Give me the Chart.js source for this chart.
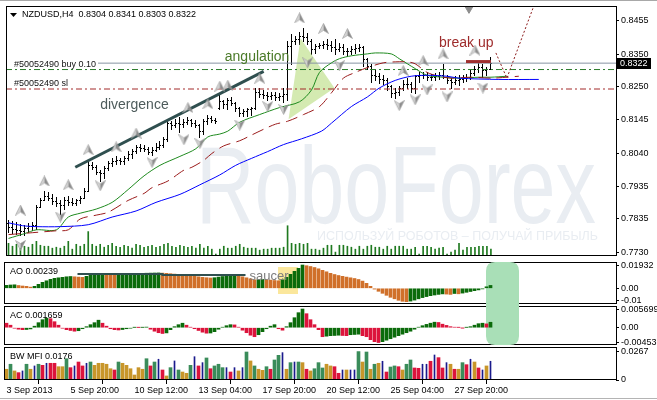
<!DOCTYPE html>
<html>
<head>
<meta charset="utf-8">
<script src="https://cdn.jsdelivr.net/npm/chart.js@4.4.0/dist/chart.umd.min.js"></script>
<style>
  html, body { margin: 0; padding: 0; background: #fff; }
  #wrap { position: relative; width: 657px; height: 400px; overflow: hidden; background: #fff; }
  #wrap canvas { position: absolute; left: 0; }
  #foot { position: absolute; left: 0; top: 398px; width: 657px; height: 1px; background: #b4b4b4; }
</style>
</head>
<body>
<div id="wrap">
  <canvas id="cMain" width="657" height="262" style="top:0"></canvas>
  <canvas id="cAO" width="657" height="44" style="top:261px"></canvas>
  <canvas id="cAC" width="657" height="41" style="top:305px"></canvas>
  <canvas id="cMFI" width="657" height="52" style="top:346px"></canvas>
  <div id="foot"></div>
</div>
<script>
// ---- data (NZDUSD H4) ----
const xTickIdx = [0, 16, 32, 48, 64, 80, 96, 112];
const xTickLabels = ['3 Sep 2013', '5 Sep 20:00', '10 Sep 12:00', '13 Sep 04:00', '17 Sep 20:00', '20 Sep 12:00', '25 Sep 04:00', '27 Sep 20:00'];
const priceTicks = [0.8455, 0.8350, 0.8250, 0.8145, 0.8040, 0.7935, 0.7835, 0.7730];

const opens = [0.7822,0.7810,0.7803,0.7800,0.7797,0.7807,0.7813,0.7816,0.7871,0.7892,
  0.7907,0.7901,0.7889,0.7883,0.7877,0.7892,0.7886,0.7883,0.7892,0.7901,
  0.7923,0.8002,0.7996,0.7981,0.7978,0.7993,0.8008,0.8015,0.8018,0.8015,
  0.8024,0.8036,0.8048,0.8060,0.8057,0.8054,0.8045,0.8051,0.8060,0.8067,
  0.8085,0.8134,0.8128,0.8134,0.8131,0.8137,0.8143,0.8134,0.8128,0.8109,
  0.8140,0.8149,0.8143,0.8183,0.8204,0.8195,0.8207,0.8198,0.8180,0.8167,
  0.8171,0.8177,0.8183,0.8232,0.8226,0.8222,0.8219,0.8222,0.8216,0.8219,
  0.8226,0.8375,0.8391,0.8397,0.8406,0.8403,0.8391,0.8366,0.8375,0.8379,
  0.8382,0.8379,0.8372,0.8366,0.8372,0.8360,0.8360,0.8366,0.8369,0.8372,
  0.8336,0.8314,0.8284,0.8281,0.8271,0.8268,0.8250,0.8229,0.8232,0.8244,
  0.8256,0.8256,0.8244,0.8281,0.8284,0.8284,0.8278,0.8278,0.8281,0.8284,
  0.8278,0.8268,0.8262,0.8268,0.8271,0.8275,0.8278,0.8290,0.8305,0.8311,
  0.8299,0.8304];
const highs = [0.7831,0.7828,0.7825,0.7819,0.7816,0.7822,0.7825,0.7877,0.7901,0.7923,
  0.7920,0.7911,0.7904,0.7892,0.7904,0.7907,0.7901,0.7895,0.7907,0.7932,
  0.8015,0.8011,0.8002,0.7987,0.7999,0.8015,0.8024,0.8030,0.8024,0.8030,
  0.8048,0.8054,0.8067,0.8070,0.8067,0.8060,0.8060,0.8073,0.8079,0.8091,
  0.8146,0.8140,0.8146,0.8152,0.8146,0.8152,0.8146,0.8143,0.8131,0.8146,
  0.8161,0.8155,0.8149,0.8222,0.8207,0.8213,0.8216,0.8201,0.8186,0.8177,
  0.8183,0.8186,0.8244,0.8244,0.8238,0.8232,0.8232,0.8232,0.8229,0.8244,
  0.8391,0.8412,0.8406,0.8421,0.8431,0.8415,0.8397,0.8382,0.8385,0.8391,
  0.8397,0.8391,0.8397,0.8385,0.8382,0.8369,0.8375,0.8382,0.8382,0.8375,
  0.8339,0.8320,0.8299,0.8290,0.8284,0.8275,0.8253,0.8244,0.8250,0.8268,
  0.8275,0.8262,0.8284,0.8293,0.8293,0.8293,0.8287,0.8290,0.8293,0.8320,
  0.8284,0.8275,0.8281,0.8284,0.8284,0.8287,0.8299,0.8314,0.8330,0.8320,
  0.8311,0.8341];
const lows = [0.7794,0.7791,0.7788,0.7785,0.7785,0.7794,0.7800,0.7803,0.7871,0.7892,
  0.7892,0.7880,0.7874,0.7849,0.7865,0.7877,0.7877,0.7877,0.7883,0.7901,
  0.7923,0.7990,0.7975,0.7953,0.7963,0.7987,0.7999,0.8005,0.8005,0.8005,
  0.8018,0.8024,0.8042,0.8048,0.8048,0.8036,0.8033,0.8048,0.8054,0.8060,
  0.8079,0.8115,0.8122,0.8106,0.8122,0.8131,0.8125,0.8122,0.8091,0.8100,
  0.8131,0.8137,0.8134,0.8177,0.8183,0.8177,0.8192,0.8171,0.8155,0.8158,
  0.8155,0.8161,0.8177,0.8216,0.8213,0.8207,0.8210,0.8207,0.8207,0.8201,
  0.8207,0.8320,0.8382,0.8382,0.8391,0.8382,0.8351,0.8354,0.8369,0.8369,
  0.8366,0.8360,0.8351,0.8360,0.8351,0.8345,0.8351,0.8354,0.8360,0.8314,
  0.8305,0.8262,0.8268,0.8259,0.8256,0.8238,0.8216,0.8213,0.8222,0.8238,
  0.8244,0.8232,0.8229,0.8262,0.8275,0.8268,0.8268,0.8268,0.8271,0.8275,
  0.8259,0.8244,0.8256,0.8253,0.8262,0.8265,0.8271,0.8284,0.8293,0.8278,
  0.8284,0.8303];
const closes = [0.7810,0.7803,0.7800,0.7797,0.7807,0.7813,0.7816,0.7871,0.7892,0.7907,
  0.7901,0.7889,0.7883,0.7877,0.7892,0.7886,0.7883,0.7892,0.7901,0.7923,
  0.8002,0.7996,0.7981,0.7978,0.7993,0.8008,0.8015,0.8018,0.8015,0.8024,
  0.8036,0.8048,0.8060,0.8057,0.8054,0.8045,0.8051,0.8060,0.8067,0.8085,
  0.8134,0.8128,0.8134,0.8131,0.8137,0.8143,0.8134,0.8128,0.8109,0.8140,
  0.8149,0.8143,0.8140,0.8204,0.8195,0.8207,0.8198,0.8180,0.8167,0.8171,
  0.8177,0.8183,0.8232,0.8226,0.8222,0.8219,0.8222,0.8216,0.8219,0.8226,
  0.8375,0.8391,0.8397,0.8406,0.8403,0.8391,0.8366,0.8375,0.8379,0.8382,
  0.8379,0.8372,0.8366,0.8372,0.8360,0.8360,0.8366,0.8369,0.8372,0.8336,
  0.8314,0.8284,0.8281,0.8271,0.8268,0.8250,0.8229,0.8232,0.8244,0.8256,
  0.8256,0.8244,0.8281,0.8284,0.8284,0.8278,0.8278,0.8281,0.8284,0.8278,
  0.8268,0.8262,0.8268,0.8271,0.8275,0.8278,0.8290,0.8305,0.8311,0.8299,
  0.8304,0.8322];
const volumes = [1300,1000,1200,800,1000,900,1200,1500,1100,1000,
  1000,800,900,800,1000,1500,700,1200,1000,1200,
  2500,1200,1000,1200,900,1100,1300,1000,900,1100,
  1000,800,1200,1100,900,1000,1100,900,1000,1200,
  1300,1000,900,1100,1000,900,1000,800,1200,800,
  1000,700,200,700,1000,800,800,1000,1200,900,
  800,800,800,600,700,700,800,800,800,900,
  3100,1300,1200,1300,1200,1300,700,700,600,800,
  1100,1100,400,1100,1100,1000,900,700,1000,700,
  1000,1100,900,900,700,1000,700,1000,1000,1000,
  700,700,900,200,1000,1000,900,700,800,900,
  200,400,600,1300,600,900,900,900,1000,1000,
  1000,700];

// Alligator lines (bar index, price)
const jawIdx = [0,3.5,7,13,20,26,32,37,43,48,53,57,61,65,69,73.5,78.5,81,86,90,93,97,101,105,110,113,123,133];
const jawVal = [0.7822,0.7813,0.7810,0.7810,0.7816,0.7840,0.7859,0.7886,0.7911,0.7941,0.7972,0.8002,0.8024,0.8045,0.8067,0.8085,0.8109,0.8134,0.8186,0.8216,0.8244,0.8268,0.8281,0.8284,0.8281,0.8275,0.8271,0.8271];
const teethIdx = [0,6,12,15,18,22,25,30,34,36,40,44,46,49,51,54,58,61,64,67,70,74,78,81,84,87,90,94,97,100,102,105,108,111,116,121,128];
const teethVal = [0.7785,0.7791,0.7797,0.7800,0.7834,0.7846,0.7855,0.7892,0.7914,0.7932,0.7953,0.7987,0.7996,0.8018,0.8039,0.8063,0.8079,0.8097,0.8115,0.8131,0.8140,0.8161,0.8186,0.8229,0.8275,0.8293,0.8308,0.8323,0.8326,0.8326,0.8320,0.8293,0.8281,0.8275,0.8278,0.8275,0.8281];
const lipsIdx = [0,4,7,12,15,18,22,26,30,34,38,43,47,50,53,55,58,63,68,73,76,78,81,83,86,90,92,96,98,102,105,109,113,118,121,125];
const lipsVal = [0.7773,0.7788,0.7800,0.7800,0.7840,0.7852,0.7865,0.7886,0.7926,0.7969,0.8002,0.8030,0.8054,0.8091,0.8100,0.8109,0.8137,0.8161,0.8183,0.8201,0.8238,0.8293,0.8323,0.8336,0.8345,0.8351,0.8354,0.8351,0.8336,0.8305,0.8284,0.8278,0.8275,0.8278,0.8278,0.8281];

// Fractals
const upIdx = [3,9,15,20,27,32,45,50,53,55,63,73,79,85,99,104,109,117];
const upVal = [0.7862,0.7953,0.7941,0.8051,0.8060,0.8103,0.8183,0.8195,0.8250,0.8253,0.8275,0.8464,0.8431,0.8415,0.8299,0.8330,0.8351,0.8363];
const dnIdx = [3,13,23,36,44,48,58,65,69,75,83,98,102,105,110,119];
const dnVal = [0.7751,0.7840,0.7938,0.8011,0.8082,0.8070,0.8128,0.8186,0.8177,0.8323,0.8314,0.8189,0.8207,0.8238,0.8216,0.8244];

// Order lines
const bidPrice = 0.8322;
const orderPrice = 0.8302;
const slPrice = 0.8241;

// Drawn analysis objects
const trendIdx = [16.75, 64];
const trendVal = [0.7996, 0.8296];
const angIdx = [73.25, 81.75, 70.25, 73.25];
const angVal = [0.8400, 0.8244, 0.8146, 0.8400];
const breakIdx = [114.75, 121];
const breakVal = [0.8327, 0.8327];
const projIdx = [122.25, 125, 132.5];
const projVal = [0.8354, 0.8275, 0.8526];
const shiftIdx = [115.5];
const shiftVal = [0.8492];

// Awesome Oscillator
const ao = [0.00249,0.00274,0.00291,0.00232,0.00191,0.00166,0.00100,0.00166,0.00332,0.00498,
  0.00623,0.00747,0.00830,0.00872,0.00913,0.00955,0.00979,0.00955,0.00930,0.00913,
  0.00996,0.01079,0.01145,0.01187,0.01212,0.01195,0.01179,0.01162,0.01179,0.01195,
  0.01204,0.01212,0.01228,0.01237,0.01245,0.01253,0.01262,0.01270,0.01278,0.01262,
  0.01245,0.01212,0.01179,0.01145,0.01112,0.01079,0.01038,0.00996,0.00955,0.00913,
  0.00880,0.00855,0.00880,0.00930,0.00979,0.01021,0.01054,0.01071,0.01038,0.00955,
  0.00872,0.00789,0.00706,0.00722,0.00739,0.00714,0.00681,0.00647,0.00623,0.00706,
  0.00913,0.01162,0.01411,0.01660,0.01932,0.01876,0.01809,0.01726,0.01619,0.01494,
  0.01370,0.01245,0.01145,0.01062,0.00996,0.00930,0.00872,0.00813,0.00730,0.00598,
  0.00415,0.00166,-0.00066,-0.00249,-0.00415,-0.00581,-0.00747,-0.00872,-0.00996,-0.01079,
  -0.01112,-0.01062,-0.00979,-0.00872,-0.00772,-0.00689,-0.00614,-0.00556,-0.00506,-0.00465,
  -0.00481,-0.00506,-0.00432,-0.00457,-0.00398,-0.00332,-0.00266,-0.00199,-0.00133,-0.00050,
  0.00125,0.00239];
const aoTicks = [0.01932, 0, -0.01];
const aoTickLabels = ['0.01932', '0.00', '-0.01'];
const aoLineIdx = [17.75, 39, 39, 59.75];
const aoLineVal = [0.0119, 0.0119, 0.0111, 0.0111];

// Accelerator Oscillator
const ac = [0.00137,0.00076,-0.00015,-0.00046,-0.00061,-0.00055,-0.00037,0.00046,0.00153,0.00244,
  0.00290,0.00275,0.00183,0.00076,-0.00015,-0.00061,-0.00085,-0.00107,-0.00092,-0.00031,
  0.00031,0.00092,0.00153,0.00229,0.00137,0.00046,-0.00031,-0.00061,-0.00070,-0.00055,
  -0.00031,-0.00015,0.00009,0.00006,0.00009,0.00018,-0.00046,-0.00107,-0.00153,-0.00177,
  -0.00159,-0.00061,0.00031,0.00092,0.00137,0.00076,0.00015,-0.00031,-0.00085,-0.00137,
  -0.00168,-0.00162,-0.00122,-0.00046,0.00015,0.00061,0.00092,0.00085,0.00015,-0.00076,
  -0.00153,-0.00229,-0.00275,-0.00214,-0.00122,-0.00031,0.00046,0.00092,-0.00031,-0.00076,
  0.00031,0.00153,0.00305,0.00458,0.005699,0.00427,0.00244,0.00092,-0.00061,-0.00275,
  -0.00259,-0.00244,-0.00238,-0.00229,-0.00238,-0.00244,-0.00214,-0.00207,-0.00198,-0.00244,
  -0.00275,-0.00366,-0.00427,-0.00453,-0.00427,-0.00381,-0.00336,-0.00290,-0.00244,-0.00198,
  -0.00153,-0.00107,-0.00046,0.00015,0.00061,0.00101,0.00137,0.00168,0.00159,0.00107,
  0.00070,0.00031,0.00015,0.00009,-0.00006,0.00009,0.00031,0.00076,0.00122,0.00137,
  0.00116,0.001659];
const acTicks = [0.005699, 0, -0.00453];
const acTickLabels = ['0.005699', '0.00', '-0.00453'];

// Bill Williams Market Facilitation Index (G green, F fade, K fake, S squat)
const mfi = [0.0101,0.0148,0.0085,0.0069,0.0085,0.0148,0.0101,0.0132,0.0148,0.0138,
  0.0157,0.0157,0.0157,0.0125,0.0125,0.0200,0.0116,0.0132,0.0169,0.0132,
  0.0157,0.0169,0.0138,0.0157,0.0157,0.0148,0.0106,0.0094,0.0169,0.0157,
  0.0138,0.0106,0.0047,0.0116,0.0101,0.0200,0.0132,0.0169,0.0195,0.0094,
  0.0038,0.0116,0.0179,0.0094,0.0075,0.0063,0.0138,0.0219,0.0132,0.0163,
  0.0207,0.0106,0.0132,0.0148,0.0116,0.0116,0.0075,0.0116,0.0085,0.0116,
  0.0263,0.0179,0.0132,0.0101,0.0091,0.0125,0.0101,0.0188,0.0232,0.0257,
  0.0101,0.0163,0.0169,0.0169,0.0163,0.0101,0.0085,0.0106,0.0163,0.0113,
  0.0148,0.0132,0.0125,0.0063,0.0094,0.0094,0.0094,0.0094,0.0267,0.0169,
  0.0263,0.0101,0.0148,0.0157,0.0176,0.0075,0.0122,0.0132,0.0125,0.0094,
  0.0148,0.0188,0.0113,0.0110,0.0148,0.0148,0.0176,0.0235,0.0210,0.0113,
  0.0163,0.0148,0.0101,0.0101,0.0163,0.0144,0.0195,0.0169,0.0113,0.0094,
  0.0132,0.0176];
const mfiType = ['F','G','F','S','K','G','F','K','G','S',
  'K','S','S','F','F','G','S','K','S','S',
  'K','G','F','F','F','F','F','S','G','F',
  'F','F','F','F','F','G','S','G','K','S',
  'F','G','K','G','F','F','G','K','S','K',
  'G','S','G','G','G','K','S','K','F','K',
  'G','F','G','F','F','G','S','G','G','K',
  'F','G','K','G','F','S','F','G','G','G',
  'F','F','S','S','K','F','K','K','G','F',
  'G','F','G','F','K','S','G','G','S','F',
  'G','G','S','S','K','K','S','K','S','S',
  'K','F','S','F','G','S','K','F','S','K',
  'F','K'];
const mfiTicks = [0.0267, 0];
const mfiTickLabels = ['0.0267', '0'];

// ---- layout / style ----
const FONT = '"Liberation Sans", Arial, sans-serif';
const X_MIN = -0.625, X_MAX = 152.375;
const HL_FROM = 119.75, HL_TO = 128;          // green highlight over AO/AC
const SAUCER = { i0: 67.75, i1: 72.75, top: 0.0177, bottom: -0.0047, textI: 60.75, textV: 0.0102 };
const NOTES = [
  { text: 'divergence', i: 23, p: 0.8192, color: '#4d5b5b' },
  { text: 'angulation', i: 54.25, p: 0.8342, color: '#4a7a28' },
  { text: 'break up', i: 108, p: 0.8385, color: '#9e2b2b' }
];
Chart.defaults.font.family = FONT;
Chart.defaults.font.size = 9;
Chart.defaults.color = '#000';

const pts = (xs, ys) => xs.map((x, k) => ({ x, y: ys[k] }));
const series = (arr) => arr.map((y, i) => ({ x: i, y }));
const hline = (p) => [{ x: X_MIN, y: p }, { x: X_MAX, y: p }];
const upDown = (arr, up, down, firstUp) => arr.map((v, i) => ((i === 0 ? firstUp : v > arr[i - 1]) ? up : down));

function arrowImg(up) {
  const c = document.createElement('canvas');
  c.width = 11; c.height = 11;
  const g = c.getContext('2d');
  if (!up) { g.translate(0, 11); g.scale(1, -1); }
  g.beginPath(); g.moveTo(5.5, 0.5); g.lineTo(5.5, 7.5); g.lineTo(0.5, 10.5); g.closePath();
  g.fillStyle = '#d2d2d2'; g.fill();
  g.beginPath(); g.moveTo(5.5, 0.5); g.lineTo(10.5, 10.5); g.lineTo(5.5, 7.5); g.closePath();
  g.fillStyle = '#8c8c8c'; g.fill();
  g.beginPath(); g.moveTo(5.5, 0.5); g.lineTo(10.5, 10.5); g.lineTo(5.5, 7.5); g.lineTo(0.5, 10.5); g.closePath();
  g.strokeStyle = '#9c9c9c'; g.lineWidth = 0.6; g.stroke();
  return c;
}

function roundPath(ctx, x, y, w, h, r) {
  const [tl, tr, br, bl] = r;
  ctx.beginPath();
  ctx.moveTo(x + tl, y);
  ctx.lineTo(x + w - tr, y); ctx.quadraticCurveTo(x + w, y, x + w, y + tr);
  ctx.lineTo(x + w, y + h - br); ctx.quadraticCurveTo(x + w, y + h, x + w - br, y + h);
  ctx.lineTo(x + bl, y + h); ctx.quadraticCurveTo(x, y + h, x, y + h - bl);
  ctx.lineTo(x, y + tl); ctx.quadraticCurveTo(x, y, x + tl, y);
  ctx.closePath();
}

function xAxis(show) {
  const s = { type: 'linear', min: X_MIN, max: X_MAX, offset: false, display: show };
  if (show) {
    Object.assign(s, {
      afterBuildTicks: sc => { sc.ticks = xTickIdx.map(v => ({ value: v })); },
      afterFit: sc => { sc.height = 18; sc.paddingLeft = 0; sc.paddingRight = 0; },
      ticks: { callback: (v, i) => xTickLabels[i], align: 'start', maxRotation: 0, autoSkip: false, padding: 1 },
      grid: { drawOnChartArea: false, tickLength: 4, color: '#000' },
      border: { display: false }
    });
  }
  return s;
}
function yAxis(min, max, vals, labels) {
  return {
    type: 'linear', position: 'right', min, max,
    afterBuildTicks: sc => { sc.ticks = vals.map(v => ({ value: v })); },
    afterFit: sc => { sc.width = 41; sc.paddingTop = 0; sc.paddingBottom = 0; },
    ticks: { callback: (v, i) => labels[i], autoSkip: false, padding: 2 },
    grid: { drawOnChartArea: false, tickLength: 3, color: '#000' },
    border: { display: false }
  };
}
function drawFrame(chart) {
  const { ctx, chartArea: a } = chart;
  ctx.save();
  ctx.strokeStyle = '#000'; ctx.lineWidth = 1;
  ctx.strokeRect(a.left + 0.5, a.top + 0.5, a.right - a.left, a.bottom - a.top - 1);
  ctx.restore();
}
const frameEarly = { id: 'frameEarly', beforeDatasetsDraw: drawFrame };
const frameLate = { id: 'frameLate', afterDraw: drawFrame };
function panelLabel(text) {
  return { id: 'plabel', afterDatasetsDraw(chart) {
    const { ctx, chartArea: a } = chart;
    ctx.save(); ctx.font = '9px ' + FONT; ctx.fillStyle = '#000'; ctx.textBaseline = 'middle';
    ctx.fillText(text, a.left + 6, a.top + 10);
    ctx.restore();
  } };
}
function highlight(part) {
  return { id: 'hl' + part, beforeDatasetsDraw(chart) {
    const { ctx, chartArea: a, scales: { x } } = chart;
    const x0 = Math.round(x.getPixelForValue(HL_FROM)), x1 = Math.round(x.getPixelForValue(HL_TO));
    const y0 = part === 'top' ? a.top : 0;
    const y1 = part === 'top' ? chart.height : a.bottom;
    ctx.save(); ctx.fillStyle = '#a9dfb7';
    roundPath(ctx, x0, y0, x1 - x0, y1 - y0, part === 'top' ? [9, 9, 0, 0] : [0, 0, 9, 9]);
    ctx.fill(); ctx.restore();
  } };
}

// ---- main price window ----
const mainDecor = {
  id: 'mainDecor',
  beforeDatasetsDraw(chart) {
    const { ctx, chartArea: a, scales: { x, y } } = chart;
    ctx.save();
    ctx.beginPath(); ctx.rect(a.left, a.top, a.right - a.left, a.bottom - a.top); ctx.clip();
    // watermark
    ctx.fillStyle = '#e9edf2';
    ctx.font = '110px ' + FONT;
    let w = ctx.measureText('RoboForex').width;
    ctx.save(); ctx.translate(196, 223); ctx.scale(400 / w, 1); ctx.fillText('RoboForex', 0, 0); ctx.restore();
    const sub = 'ИСПОЛЬЗУЙ РОБОТОВ – ПОЛУЧАЙ ПРИБЫЛЬ';
    ctx.font = '12px ' + FONT;
    w = ctx.measureText(sub).width;
    ctx.save(); ctx.translate(317, 240); ctx.scale(281 / w, 1); ctx.fillText(sub, 0, 0); ctx.restore();
    // OHLC bars
    ctx.strokeStyle = '#000'; ctx.lineWidth = 1;
    ctx.beginPath();
    for (let i = 0; i < closes.length; i++) {
      const px = Math.floor(x.getPixelForValue(i)) + 0.5;
      const yh = Math.round(y.getPixelForValue(highs[i]));
      const yl = Math.round(y.getPixelForValue(lows[i]));
      const yo = Math.round(y.getPixelForValue(opens[i])) + 0.5;
      const yc = Math.round(y.getPixelForValue(closes[i])) + 0.5;
      ctx.moveTo(px, yh); ctx.lineTo(px, yl + 1);
      ctx.moveTo(px - 1.5, yo); ctx.lineTo(px - 0.5, yo);
      ctx.moveTo(px + 0.5, yc); ctx.lineTo(px + 1.5, yc);
    }
    ctx.stroke();
    ctx.restore();
  },
  afterDatasetsDraw(chart) {
    const { ctx, chartArea: a, scales: { x, y } } = chart;
    ctx.save();
    ctx.font = '9px ' + FONT;
    // order labels
    ctx.textBaseline = 'bottom';
    const lab = (txt, price) => {
      const yy = Math.round(y.getPixelForValue(price)) - 1;
      const tw = ctx.measureText(txt).width;
      ctx.fillStyle = '#fff'; ctx.fillRect(a.left + 1, yy - 10, tw + 9, 10);
      ctx.fillStyle = '#111'; ctx.fillText(txt, a.left + 8, yy);
    };
    lab('#50052490 buy 0.10', orderPrice);
    lab('#50052490 sl', slPrice);
    // title
    ctx.textBaseline = 'middle';
    const n = closes.length - 1;
    const title = 'NZDUSD,H4  ' + [opens[n], highs[n], lows[n], closes[n]].map(v => v.toFixed(4)).join(' ');
    ctx.fillStyle = '#000';
    ctx.beginPath(); ctx.moveTo(a.left + 4, a.top + 7); ctx.lineTo(a.left + 11, a.top + 7); ctx.lineTo(a.left + 7.5, a.top + 11); ctx.closePath(); ctx.fill();
    ctx.fillText(title, a.left + 16, a.top + 9);
    // annotations
    ctx.font = '14px ' + FONT;
    NOTES.forEach(nt => { ctx.fillStyle = nt.color; ctx.fillText(nt.text, x.getPixelForValue(nt.i), y.getPixelForValue(nt.p)); });
    ctx.restore();
  },
  afterDraw(chart) {
    const { ctx, chartArea: a, scales: { y } } = chart;
    const yb = Math.round(y.getPixelForValue(bidPrice));
    ctx.save();
    ctx.fillStyle = '#000'; ctx.fillRect(a.right + 1, yb - 5, 34, 11);
    ctx.fillStyle = '#fff'; ctx.font = '9px ' + FONT; ctx.textBaseline = 'middle';
    ctx.fillText(bidPrice.toFixed(4), a.right + 4, yb + 0.5);
    ctx.strokeStyle = '#a8a8a8'; ctx.beginPath(); ctx.moveTo(0, 0.5); ctx.lineTo(chart.width, 0.5); ctx.stroke();
    ctx.restore();
  }
};

new Chart(document.getElementById('cMain'), {
  type: 'line',
  data: {
    datasets: [
      { data: pts(angIdx, angVal), fill: 'shape', backgroundColor: 'rgba(200,228,155,0.78)', borderWidth: 0, pointRadius: 0, order: 30 },
      { type: 'bar', data: series(volumes), yAxisID: 'yv', backgroundColor: '#1f7a1f', barThickness: 1, order: 29 },
      { data: hline(bidPrice), borderColor: '#8794a3', borderWidth: 1, pointRadius: 0, order: 20 },
      { data: hline(orderPrice), borderColor: '#2a7a2a', borderWidth: 1, borderDash: [6, 3, 2, 3], pointRadius: 0, order: 20 },
      { data: hline(slPrice), borderColor: '#a32a2a', borderWidth: 1, borderDash: [6, 3, 2, 3], pointRadius: 0, order: 20 },
      { data: pts(jawIdx, jawVal), borderColor: '#0000ff', borderWidth: 1, tension: 0.3, pointRadius: 0, order: 10 },
      { data: pts(teethIdx, teethVal), borderColor: '#9b1c1c', borderWidth: 1, borderDash: [12, 6], tension: 0.3, pointRadius: 0, order: 10 },
      { data: pts(lipsIdx, lipsVal), borderColor: '#1e8a1e', borderWidth: 1, tension: 0.3, pointRadius: 0, order: 10 },
      { data: pts(trendIdx, trendVal), borderColor: '#2f4f4f', borderWidth: 3, pointRadius: 0, order: 5 },
      { data: pts(breakIdx, breakVal), borderColor: '#a03030', borderWidth: 3, pointRadius: 0, order: 5 },
      { data: pts(projIdx, projVal), borderColor: '#8b1a1a', borderWidth: 1, borderDash: [2, 2], pointRadius: 0, order: 5 },
      { data: pts(upIdx, upVal), showLine: false, pointStyle: arrowImg(true), pointRadius: 5, order: 2 },
      { data: pts(dnIdx, dnVal), showLine: false, pointStyle: arrowImg(false), pointRadius: 5, order: 2 },
      { data: pts(shiftIdx, shiftVal), showLine: false, pointStyle: 'triangle', rotation: 180, pointRadius: 4.5, backgroundColor: '#8c8c8c', borderColor: '#8c8c8c', order: 2 }
    ]
  },
  options: {
    responsive: false, animation: false, events: [],
    layout: { padding: { left: 4, top: 4, bottom: 2, right: 0 } },
    plugins: { legend: { display: false }, tooltip: { enabled: false } },
    scales: {
      x: xAxis(false),
      y: yAxis(0.7718, 0.8501, priceTicks, priceTicks.map(v => v.toFixed(4))),
      yv: { display: false, min: 0, max: 25600 }
    }
  },
  plugins: [mainDecor, frameLate]
});

// ---- AO window ----
const aoDecor = {
  id: 'aoDecor',
  beforeDatasetsDraw(chart) {
    const { ctx, scales: { x, y } } = chart;
    const x0 = x.getPixelForValue(SAUCER.i0), x1 = x.getPixelForValue(SAUCER.i1);
    const y0 = y.getPixelForValue(SAUCER.top), y1 = y.getPixelForValue(SAUCER.bottom);
    ctx.save(); ctx.fillStyle = '#fbe79c'; ctx.fillRect(Math.round(x0), Math.round(y0), Math.round(x1 - x0), Math.round(y1 - y0)); ctx.restore();
  },
  afterDatasetsDraw(chart) {
    const { ctx, scales: { x, y } } = chart;
    ctx.save(); ctx.font = '13px ' + FONT; ctx.fillStyle = '#7c7c7c'; ctx.textBaseline = 'middle';
    ctx.fillText('saucer', x.getPixelForValue(SAUCER.textI), y.getPixelForValue(SAUCER.textV));
    ctx.restore();
  }
};
new Chart(document.getElementById('cAO'), {
  type: 'bar',
  data: {
    datasets: [
      { type: 'line', data: pts(aoLineIdx, aoLineVal), borderColor: '#2f4f4f', borderWidth: 2, pointRadius: 0, order: 1 },
      { data: series(ao), backgroundColor: upDown(ao, '#0b6b0b', '#d0702a', true), barThickness: 3, order: 5 }
    ]
  },
  options: {
    responsive: false, animation: false, events: [],
    layout: { padding: { left: 4, top: 1, bottom: 1, right: 0 } },
    plugins: { legend: { display: false }, tooltip: { enabled: false } },
    scales: { x: xAxis(false), y: yAxis(-0.01303, 0.02183, aoTicks, aoTickLabels) }
  },
  plugins: [frameEarly, highlight('top'), aoDecor, panelLabel('AO ' + ao[ao.length - 1].toFixed(5))]
});

// ---- AC window ----
new Chart(document.getElementById('cAC'), {
  type: 'bar',
  data: {
    datasets: [
      { data: series(ac), backgroundColor: upDown(ac, '#0b6b0b', '#dc143c', false), barThickness: 3 }
    ]
  },
  options: {
    responsive: false, animation: false, events: [],
    layout: { padding: { left: 4, top: 1, bottom: 1, right: 0 } },
    plugins: { legend: { display: false }, tooltip: { enabled: false } },
    scales: { x: xAxis(false), y: yAxis(-0.00528, 0.00662, acTicks, acTickLabels) }
  },
  plugins: [frameEarly, highlight('bottom'), panelLabel('AC ' + ac[ac.length - 1].toFixed(6))]
});

// ---- BW MFI window ----
const mfiColors = { G: '#3a8c5a', F: '#c8962a', K: '#1a1a8c', S: '#dc143c' };
new Chart(document.getElementById('cMFI'), {
  type: 'bar',
  data: {
    datasets: [
      { data: mfi.map((v, i) => ({ x: i, y: mfiType[i] === 'K' ? null : v })),
        backgroundColor: mfiType.map(t => mfiColors[t]), barThickness: 3, grouped: false },
      { data: mfi.map((v, i) => ({ x: i, y: mfiType[i] === 'K' ? v : null })),
        backgroundColor: mfiColors.K, barThickness: 1, grouped: false }
    ]
  },
  options: {
    responsive: false, animation: false, events: [],
    layout: { padding: { left: 4, top: 1, bottom: 0, right: 0 } },
    plugins: { legend: { display: false }, tooltip: { enabled: false } },
    scales: { x: xAxis(true), y: yAxis(0, 0.0310, mfiTicks, mfiTickLabels) }
  },
  plugins: [frameLate, panelLabel('BW MFI ' + mfi[mfi.length - 1].toFixed(4))]
});
</script>
</body>
</html>
